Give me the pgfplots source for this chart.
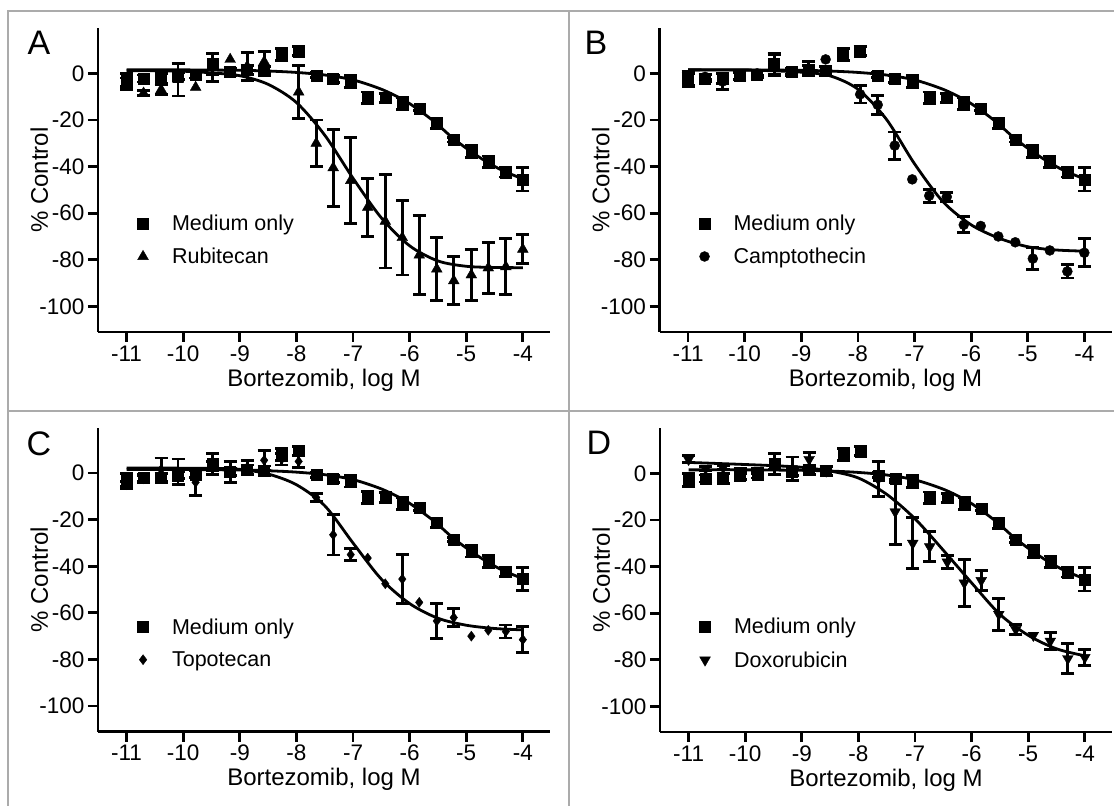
\documentclass[border=0pt]{standalone}
\usepackage{fontspec}
\setmainfont{Liberation Sans}
\usepackage{pgfplots}
\usepackage{pgfplotstable}
\pgfplotsset{compat=1.18}

\newcommand\tickfont{\fontsize{22.5}{26}\selectfont}
\newcommand\labfont{\fontsize{24}{28}\selectfont}
\newcommand\legfont{\fontsize{21.5}{25}\selectfont}
\newcommand\panfont{\fontsize{34}{38}\selectfont}

% Medium only (same control in every panel)
\pgfplotstableread{
x y e
-11.00 -3.0 2.8
-10.70 -2.2 1.5
-10.39 -2.2 2.0
-10.09 -1.0 1.5
-9.78 -0.5 1.5
-9.48 4.0 4.5
-9.17 0.5 1.5
-8.87 1.5 2.0
-8.57 1.0 2.0
-8.26 8.0 2.5
-7.96 9.5 2.0
-7.65 -0.8 1.0
-7.35 -2.5 1.5
-7.04 -3.5 2.5
-6.74 -10.5 2.5
-6.43 -10.5 2.0
-6.13 -13.0 2.5
-5.83 -15.0 1.0
-5.52 -21.5 2.0
-5.22 -28.5 1.0
-4.91 -33.5 2.5
-4.61 -38.0 2.5
-4.30 -42.5 2.0
-4.00 -45.5 5.0
}\medium

\pgfplotstableread{
x y e
-11.00 -4.5 2.5
-10.70 -8.5 1.0
-10.39 -7.0 2.0
-10.09 -2.7 7.0
-9.48 2.5 6.0
-8.87 3.0 6.0
-8.57 5.0 4.5
-7.96 -8.0 11.5
-7.65 -30.0 10.0
-7.35 -40.5 16.5
-7.04 -46.0 18.5
-6.74 -57.5 12.5
-6.43 -63.5 20.0
-6.13 -70.5 16.0
-5.83 -78.0 17.0
-5.52 -84.0 13.4
-5.22 -89.0 10.3
-4.91 -86.5 11.0
-4.61 -83.5 11.0
-4.30 -83.0 12.0
-4.00 -75.5 6.2
}\rubi
\pgfplotstableread{
x y
-9.78 -6.0
-9.17 6.0
}\rubino

\pgfplotstableread{
x y e
-11.00 -2.0 3.0
-10.70 -1.5 1.0
-10.39 -3.5 3.5
-10.09 -1.0 1.5
-9.78 0.0 1.0
-9.48 3.5 4.5
-9.17 0.5 1.0
-8.87 2.0 3.0
-7.96 -9.0 3.7
-7.65 -13.5 4.0
-7.35 -31.0 5.8
-6.74 -52.5 2.8
-6.43 -53.0 2.0
-6.13 -65.0 3.4
-4.91 -79.5 4.8
-4.30 -85.0 2.8
-4.00 -77.0 6.0
}\campto
\pgfplotstableread{
x y
-8.57 6.0
-7.04 -45.5
-5.83 -65.5
-5.52 -70.0
-5.22 -72.5
-4.61 -76.0
}\camptono

\pgfplotstableread{
x y e
-11.00 -5.0 1.5
-10.70 -2.5 1.5
-10.39 1.5 5.0
-10.09 0.5 5.5
-9.78 -4.0 5.7
-9.48 3.0 2.0
-9.17 0.5 4.6
-8.87 2.5 3.0
-8.57 5.5 4.3
-8.26 6.0 2.5
-7.96 5.0 2.5
-7.65 -10.5 1.8
-7.35 -26.5 8.7
-7.04 -35.0 2.5
-6.13 -45.5 10.5
-5.52 -63.5 7.6
-5.22 -62.0 3.8
-4.30 -68.0 2.8
-4.00 -71.5 5.5
}\topo
\pgfplotstableread{
x y
-6.74 -36.5
-6.43 -47.5
-5.83 -55.5
-4.91 -70.0
-4.61 -67.5
}\topono

\pgfplotstableread{
x y e
-11.00 6.0 1.5
-10.70 2.0 1.0
-10.39 2.5 1.0
-10.09 1.0 1.0
-9.78 1.0 1.0
-9.48 5.0 3.5
-9.17 2.0 5.0
-8.87 6.0 3.0
-8.57 1.0 2.0
-7.65 -2.5 7.6
-7.35 -16.5 14.0
-7.04 -30.0 11.0
-6.74 -31.5 6.4
-6.43 -38.0 2.8
-6.13 -47.0 10.2
-5.83 -46.0 4.3
-5.52 -60.5 6.9
-5.22 -67.0 2.0
-4.61 -72.0 3.7
-4.30 -79.5 6.5
-4.00 -79.0 3.5
}\doxo
\pgfplotstableread{
x y
-4.91 -69.5
}\doxono

\pgfplotsset{
  panel/.style={
    scale only axis, width=452pt, height=303.6pt, anchor=south west,
    xmin=-11.505, xmax=-3.52, ymin=-111, ymax=19.3,
    axis lines=left, axis line style={line width=2.8pt, -},
    xtick={-11,-10,...,-4}, xticklabels={-11,-10,-9,-8,-7,-6,-5,-4},
    ytick={-100,-80,...,0}, yticklabels={-100,-80,-60,-40,-20,0},
    tick align=outside, major tick length=10pt,
    tick style={line width=2.8pt, black},
    tick label style={font=\tickfont},
    xlabel={Bortezomib, log M}, ylabel={\% Control},
    label style={font=\labfont},
    xlabel style={at={(axis description cs:0.5,-0.158)}, anchor=center},
    ylabel style={at={(axis description cs:-0.13,0.5)}, anchor=center},
    legend style={draw=none, fill=none, font=\legfont, inner sep=0pt,
      row sep=12pt, legend cell align=left, anchor=west},
    clip=false,
  },
  pts/.style={only marks, black, mark options={solid, fill=black},
    legend image code/.code={\path[draw=none] (0pt,0pt) -- (27pt,0pt);
      \path[##1] plot[only marks] coordinates {(0pt,0pt)};},
    error bars/y dir=both, error bars/y explicit,
    error bars/error bar style={line width=2.8pt, black},
    error bars/error mark options={rotate=90, mark size=6.5pt, line width=2.8pt, black}},
  nopts/.style={only marks, black, mark options={solid, fill=black}, forget plot},
  fitline/.style={smooth, black, no markers, line width=2.8pt, forget plot},
}

\begin{document}
\begin{tikzpicture}
\path[use as bounding box] (0pt,0pt) rectangle (1114pt,806pt);
\draw[line width=2pt, black!33] (8pt,0pt) -- (8pt,795pt) -- (1114pt,795pt);
\draw[line width=2pt, black!33] (569pt,0pt) -- (569pt,795pt);
\draw[line width=2pt, black!33] (8pt,395pt) -- (1114pt,395pt);
\node[font=\panfont] at (39pt,763pt) {A};
\node[font=\panfont] at (596pt,763pt) {B};
\node[font=\panfont] at (39pt,362pt) {C};
\node[font=\panfont] at (599pt,363pt) {D};

% A
\begin{axis}[panel, at={(98pt,474pt)}, legend style={at={(axis cs:-10.81,-71.5)}}]
\addplot[fitline] coordinates {(-11,1.5) (-10,1.5) (-9,1.3) (-8.5,1.0) (-8,0.4) (-7.5,-0.7) (-7,-2.8) (-6.5,-6.8) (-6.1,-11.5) (-5.85,-15.5) (-5.55,-21) (-5.25,-27.5) (-4.95,-33) (-4.65,-37.8) (-4.35,-41.8) (-4.0,-45.3)};
\addplot[fitline] coordinates {(-11,1.2) (-10,0.9) (-9.5,0.2) (-9,-1) (-8.5,-4.7) (-8,-12.5) (-7.5,-26.5) (-7,-45) (-6.5,-62) (-6,-74) (-5.5,-80.5) (-5,-82.8) (-4.5,-83.3) (-4,-83.4)};
\addplot[pts, mark=square*, mark size=5.5pt] table[x=x, y=y, y error=e] {\medium};
\addplot[pts, mark=triangle*, mark size=6.2pt] table[x=x, y=y, y error=e] {\rubi};
\addplot[nopts, mark=triangle*, mark size=6.2pt] table[x=x, y=y] {\rubino};
\legend{Medium only, Rubitecan}
\end{axis}

% B
\begin{axis}[panel, at={(659.5pt,474pt)}, legend style={at={(axis cs:-10.81,-71.5)}}]
\addplot[fitline] coordinates {(-11,1.5) (-10,1.5) (-9,1.3) (-8.5,1.0) (-8,0.4) (-7.5,-0.7) (-7,-2.8) (-6.5,-6.8) (-6.1,-11.5) (-5.85,-15.5) (-5.55,-21) (-5.25,-27.5) (-4.95,-33) (-4.65,-37.8) (-4.35,-41.8) (-4.0,-45.3)};
\addplot[fitline] coordinates {(-11,1.5) (-10,1.4) (-9.5,1.1) (-9,0.5) (-8.5,-1) (-8,-6.8) (-7.5,-19.6) (-7,-38.8) (-6.5,-55) (-6,-65) (-5.5,-70.8) (-5,-74.4) (-4.5,-75.8) (-4,-76.3)};
\addplot[pts, mark=square*, mark size=5.5pt] table[x=x, y=y, y error=e] {\medium};
\addplot[pts, mark=*, mark size=5pt] table[x=x, y=y, y error=e] {\campto};
\addplot[nopts, mark=*, mark size=5pt] table[x=x, y=y] {\camptono};
\legend{Medium only, Camptothecin}
\end{axis}

% C
\begin{axis}[panel, at={(98pt,74.3pt)}, legend style={at={(axis cs:-10.81,-73)}}]
\addplot[fitline] coordinates {(-11,1.5) (-10,1.5) (-9,1.3) (-8.5,1.0) (-8,0.4) (-7.5,-0.7) (-7,-2.8) (-6.5,-6.8) (-6.1,-11.5) (-5.85,-15.5) (-5.55,-21) (-5.25,-27.5) (-4.95,-33) (-4.65,-37.8) (-4.35,-41.8) (-4.0,-45.3)};
\addplot[fitline] coordinates {(-11,2.2) (-10,2.1) (-9.5,2) (-9,1.6) (-8.5,-0.4) (-8,-5) (-7.5,-14) (-7,-30) (-6.5,-45.5) (-6,-56) (-5.5,-62.3) (-5,-65.3) (-4.5,-66.7) (-4,-67.3)};
\addplot[pts, mark=square*, mark size=5.5pt] table[x=x, y=y, y error=e] {\medium};
\addplot[pts, mark=diamond*, mark size=5pt] table[x=x, y=y, y error=e] {\topo};
\addplot[nopts, mark=diamond*, mark size=5pt] table[x=x, y=y] {\topono};
\legend{Medium only, Topotecan}
\end{axis}

% D
\begin{axis}[panel, at={(660pt,74pt)}, legend style={at={(axis cs:-10.81,-73)}}]
\addplot[fitline] coordinates {(-11,1.5) (-10,1.5) (-9,1.3) (-8.5,1.0) (-8,0.4) (-7.5,-0.7) (-7,-2.8) (-6.5,-6.8) (-6.1,-11.5) (-5.85,-15.5) (-5.55,-21) (-5.25,-27.5) (-4.95,-33) (-4.65,-37.8) (-4.35,-41.8) (-4.0,-45.3)};
\addplot[fitline] coordinates {(-11,4.7) (-10,3.8) (-9.5,3.3) (-9,2.6) (-8.5,1) (-8,-2) (-7.5,-9) (-7,-19.5) (-6.5,-33) (-6,-47) (-5.5,-60.5) (-5,-69.5) (-4.5,-75.3) (-4,-78.3)};
\addplot[pts, mark=square*, mark size=5.5pt] table[x=x, y=y, y error=e] {\medium};
\addplot[pts, mark=triangle*, mark size=6.2pt, mark options={rotate=180}] table[x=x, y=y, y error=e] {\doxo};
\addplot[nopts, mark=triangle*, mark size=6.2pt, mark options={rotate=180}] table[x=x, y=y] {\doxono};
\legend{Medium only, Doxorubicin}
\end{axis}
\end{tikzpicture}
\end{document}
